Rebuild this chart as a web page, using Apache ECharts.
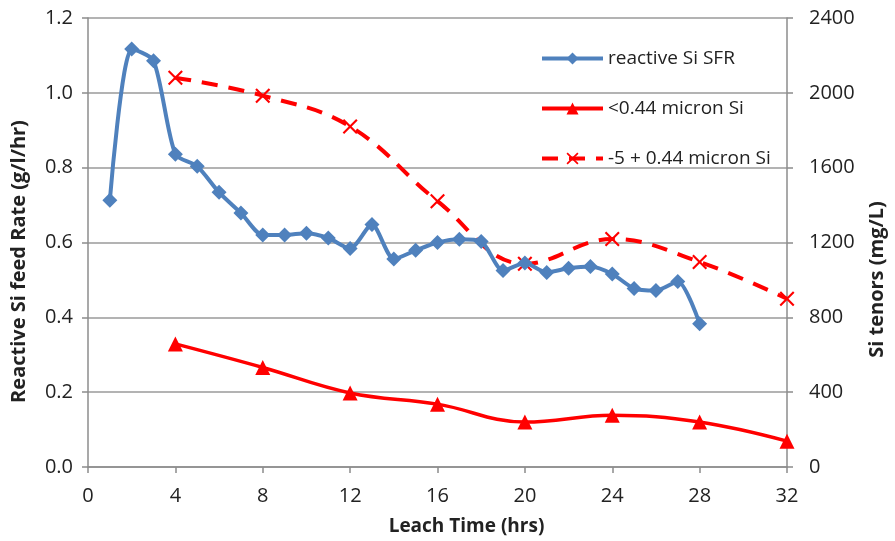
<!DOCTYPE html>
<html>
<head>
<meta charset="utf-8">
<script src="https://cdn.jsdelivr.net/npm/echarts@6/dist/echarts.min.js"></script>
<style>
  html, body { margin: 0; padding: 0; background: #fff; }
  #chart { width: 895px; height: 541px; }
</style>
</head>
<body>
<div id="chart"></div>
<script>
// Leach time (hrs) for the hourly SFR readings
const sfrHours = [1, 2, 3, 4, 5, 6, 7, 8, 9, 10, 11, 12, 13, 14, 15, 16, 17, 18, 19, 20, 21, 22, 23, 24, 25, 26, 27, 28];
// Reactive Si feed rate (g/l/hr)
const sfrRate = [0.713, 1.117, 1.086, 0.836, 0.804, 0.734, 0.679, 0.620, 0.620, 0.625, 0.612, 0.584, 0.648, 0.556, 0.579, 0.600, 0.609, 0.603, 0.525, 0.545, 0.520, 0.531, 0.536, 0.516, 0.477, 0.472, 0.496, 0.383];

// Sampling times (hrs) for the tenor assays
const assayHours = [4, 8, 12, 16, 20, 24, 28, 32];
// Si tenors (mg/L)
const fineSi = [658, 532, 396, 336, 240, 277, 240, 138];
const coarseSi = [2081, 1985, 1820, 1421, 1086, 1219, 1096, 899];

const xTicks = { min: 0, max: 32, interval: 4 };
const leftTicks = { min: 0, max: 1.2, interval: 0.2 };
const rightTicks = { min: 0, max: 2400, interval: 400 };

const seriesNames = ['reactive Si SFR', '<0.44 micron Si', '-5 + 0.44 micron Si'];

const FONT = '"Open Sans", Lato, sans-serif';
const TEXT = '#222';
const AXIS_GREY = '#8c8c8c';
const BLUE = '#4F81BD';
const RED = '#FF0000';
const CROSS = 'path://M0,1 L1,0 L5,4 L9,0 L10,1 L6,5 L10,9 L9,10 L5,6 L1,10 L0,9 L4,5 Z';

const zip = (xs, ys) => xs.map((x, i) => [x, ys[i]]);

const tickLine = { color: AXIS_GREY, width: 1.5 };
const labelStyle = { fontFamily: FONT, fontSize: 20, color: TEXT };
const titleStyle = (size, padding) => ({ fontFamily: FONT, fontSize: size, fontWeight: 'bold', color: TEXT, padding });

const chart = echarts.init(document.getElementById('chart'), null, { renderer: 'canvas' });

chart.setOption({
  backgroundColor: '#fff',
  animation: false,
  textStyle: { fontFamily: FONT },
  grid: { left: 88, right: 105, top: 18, bottom: 72, containLabel: false },
  legend: {
    orient: 'vertical',
    left: 535,
    top: 44,
    itemWidth: 61,
    itemHeight: 15,
    itemGap: 31,
    textStyle: { fontFamily: FONT, fontSize: 19, color: TEXT },
    data: [
      { name: seriesNames[0], lineStyle: { width: 4 } },
      { name: seriesNames[1], lineStyle: { width: 4 } },
      { name: seriesNames[2], lineStyle: { width: 4 } }
    ]
  },
  xAxis: {
    type: 'value',
    min: xTicks.min, max: xTicks.max, interval: xTicks.interval,
    name: 'Leach Time (hrs)',
    nameLocation: 'middle',
    nameGap: 50,
    nameTextStyle: titleStyle(19, [0, 0, 0, 58]),
    axisLine: { show: true, lineStyle: tickLine },
    axisTick: { show: true, length: 6, lineStyle: tickLine },
    axisLabel: Object.assign({ margin: 19 }, labelStyle),
    splitLine: { show: false }
  },
  yAxis: [
    {
      type: 'value',
      position: 'left',
      min: leftTicks.min, max: leftTicks.max, interval: leftTicks.interval,
      name: 'Reactive Si feed Rate (g/l/hr)',
      nameLocation: 'middle',
      nameGap: 59,
      nameRotate: 90,
      nameTextStyle: titleStyle(20, [0, 38, 0, 0]),
      axisLine: { show: true, lineStyle: tickLine },
      axisTick: { show: true, length: 6, lineStyle: tickLine },
      axisLabel: Object.assign({ margin: 15, formatter: v => v.toFixed(1) }, labelStyle),
      splitLine: { show: true, lineStyle: { color: '#9a9a9a', width: 1.5 } }
    },
    {
      type: 'value',
      position: 'right',
      min: rightTicks.min, max: rightTicks.max, interval: rightTicks.interval,
      name: 'Si tenors (mg/L)',
      nameLocation: 'middle',
      nameGap: 80,
      nameRotate: 90,
      nameTextStyle: titleStyle(20, [0, 74, 0, 0]),
      axisLine: { show: true, lineStyle: tickLine },
      axisTick: { show: true, length: 6, lineStyle: tickLine },
      axisLabel: Object.assign({ margin: 22, formatter: v => String(v) }, labelStyle),
      splitLine: { show: false }
    }
  ],
  series: [
    {
      name: seriesNames[0],
      type: 'line',
      yAxisIndex: 0,
      data: zip(sfrHours, sfrRate),
      smooth: 0.25,
      symbol: 'diamond',
      symbolSize: 15,
      lineStyle: { color: BLUE, width: 4 },
      itemStyle: { color: BLUE },
      z: 3
    },
    {
      name: seriesNames[1],
      type: 'line',
      yAxisIndex: 1,
      data: zip(assayHours, fineSi),
      smooth: 0.4,
      symbol: 'triangle',
      symbolSize: 15,
      lineStyle: { color: RED, width: 3.5 },
      itemStyle: { color: RED },
      z: 2
    },
    {
      name: seriesNames[2],
      type: 'line',
      yAxisIndex: 1,
      data: zip(assayHours, coarseSi),
      smooth: 0.4,
      symbol: CROSS,
      symbolSize: 15,
      lineStyle: { color: RED, width: 4, type: [16, 11] },
      itemStyle: { color: RED },
      z: 2
    }
  ]
});
</script>
</body>
</html>
